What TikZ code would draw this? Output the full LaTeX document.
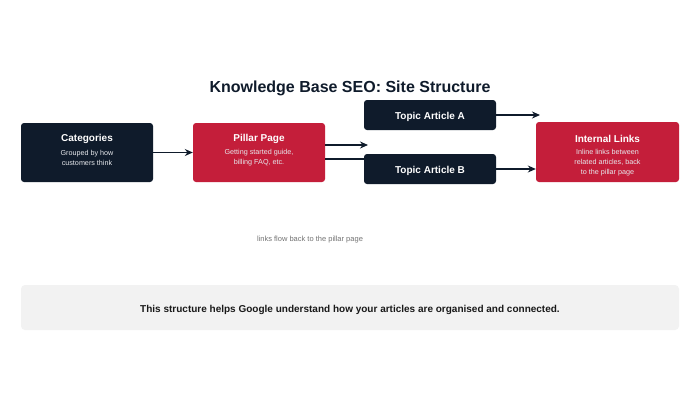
\documentclass[tikz,border=0pt]{standalone}
\usepackage{fontspec}
\setmainfont{Liberation Sans}
\usetikzlibrary{arrows.meta}
\definecolor{navy}{HTML}{0F1B2B}
\definecolor{crim}{HTML}{C41E3A}
\definecolor{panel}{HTML}{F2F2F2}
\definecolor{subw}{HTML}{E6E8EC}
\begin{document}
\begin{tikzpicture}[x=1pt,y=-1pt,
  box/.style={rounded corners=3pt, minimum height=59pt, minimum width=132pt, text=white, align=center, inner sep=0pt},
  navybox/.style={box, fill=navy},
  redbox/.style={box, fill=crim},
  topicbox/.style={box, fill=navy, minimum height=30pt},
  ttl/.style={font=\bfseries\fontsize{10}{12}\selectfont},
  sub/.style={font=\fontsize{7.2}{10}\selectfont},
  conn/.style={draw=navy, line width=1.2pt, -{Stealth[length=8pt,width=7pt]}},
  plain/.style={draw=navy, line width=1.2pt}
]
\useasboundingbox (0,0) rectangle (700,400);
\fill[white] (0,0) rectangle (700,400);
\node[font=\bfseries\fontsize{16}{19}\selectfont, text=navy] (title) at (350,88.5) {Knowledge Base SEO: Site Structure};

\node[navybox] (cat) at (87,152.5) {};
\node[ttl, text=white] (catT) at (87,138.5) {Categories};
\node[sub, text=subw, align=center] (catS) at (87,158) {Grouped by how\\customers think};

\node[redbox] (pil) at (259,152.5) {};
\node[ttl, text=white] (pilT) at (259,138.5) {Pillar Page};
\node[sub, text=subw, align=center] (pilS) at (259,158) {Getting started guide,\\billing FAQ, etc.};

\node[topicbox] (ta) at (430,115) {};
\node[ttl, text=white] (taT) at (430,116.5) {Topic Article A};
\node[topicbox] (tb) at (430,169) {};
\node[ttl, text=white] (tbT) at (430,170.5) {Topic Article B};

\node[redbox, minimum width=143pt, minimum height=60pt] (il) at (607.5,152) {};
\node[ttl, text=white] (ilT) at (607.5,138.5) {Internal Links};
\node[sub, text=subw, align=center] (ilS) at (607.5,162.5) {Inline links between\\related articles, back\\to the pillar page};

\coordinate (pA) at (368,145);
\coordinate (aEnd) at (540,115);

\draw[conn] (cat.east) -- (pil.west);
\draw[conn] (pil.east |- pA) -- (pA);
\draw[plain] (pil.east |- 0,159) -- (tb.west |- 0,159);
\draw[conn] (ta.east) -- (aEnd);
\draw[conn] (tb.east) -- (il.west |- tb.east);

\node[font=\fontsize{7.5}{9}\selectfont, text=black!55] (note) at (310,240) {links flow back to the pillar page};

\node[fill=panel, rounded corners=4pt, minimum width=658pt, minimum height=45pt, inner sep=0pt] (panel) at (350,307.5) {};
\node[font=\bfseries\fontsize{10}{12}\selectfont, text=black!90] (ptext) at (350,309.5) {This structure helps Google understand how your articles are organised and connected.};
\end{tikzpicture}
\end{document}
